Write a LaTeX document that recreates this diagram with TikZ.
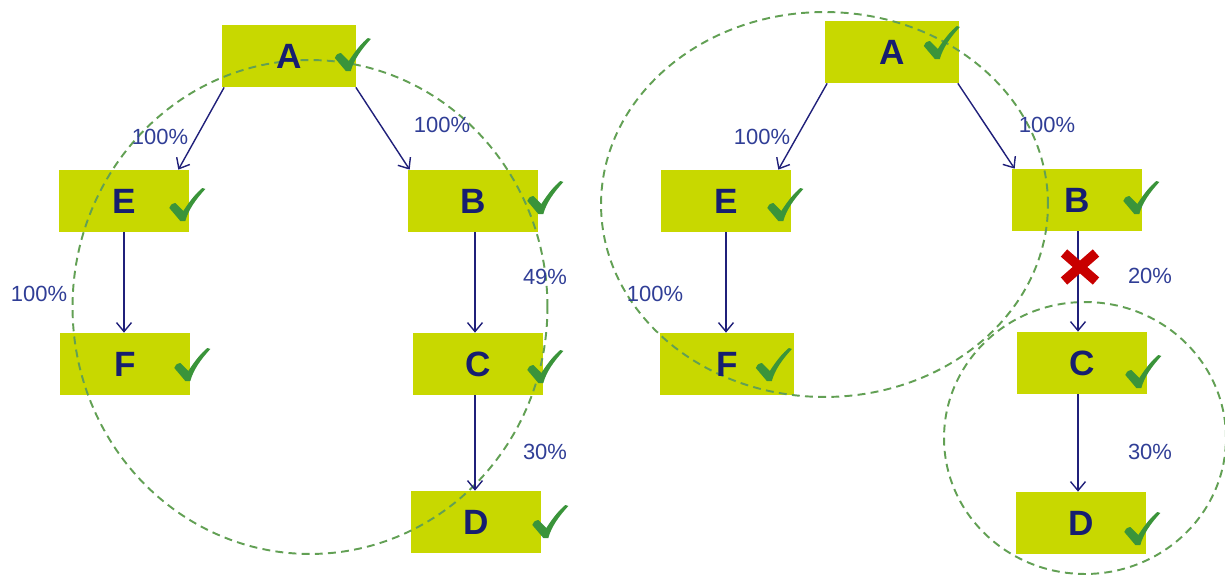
\documentclass[tikz,border=0pt]{standalone}
\usepackage{fontspec}
\setmainfont{Liberation Sans}
\usetikzlibrary{arrows.meta, positioning, calc}

\definecolor{boxfill}{RGB}{200,216,0}
\definecolor{letterblue}{RGB}{22,30,112}
\definecolor{linkblue}{RGB}{32,32,122}
\definecolor{pctblue}{RGB}{48,62,150}
\definecolor{ringgreen}{RGB}{98,160,84}
\definecolor{tickgreen}{RGB}{58,148,58}
\definecolor{crossred}{RGB}{200,0,0}

\pgfdeclarelayer{boxes}
\pgfdeclarelayer{rings}
\pgfsetlayers{boxes,rings,main}

\begin{document}
\begin{tikzpicture}[x=0.02cm, y=-0.02cm]
    % Define styles
    \tikzset{
        letter/.style={minimum width=2.6cm, minimum height=1.24cm, inner sep=0pt, font=\fontsize{20}{24}\selectfont\bfseries, text=letterblue},
        pct/.style={font=\fontsize{12.5}{15}\selectfont, text=pctblue, inner sep=0pt},
        link/.style={draw=linkblue, line width=0.8pt, -{Straight Barb[length=1.8mm, width=3mm]}},
        ring/.style={draw=ringgreen, line width=1.1pt, dash pattern=on 4.5pt off 3pt},
        cross/.style={draw=crossred, line width=5.5pt},
        okmark/.pic={\fill[tickgreen] (-18,3) .. controls (-16,-1) .. (-12,-2) -- (-4,6)
            .. controls (3,-5) and (9,-12) .. (15,-17) -- (18,-16)
            .. controls (8,-5) and (1,5) .. (-2,16) -- (-7,16) -- cycle;}
    }
    \useasboundingbox (0,0) rectangle (1225,575);

    % Left tree
    \node[letter, minimum width=2.66cm] (lA) at (289,56) {A};
    \node[letter] (lE) at (124,201) {E};
    \node[letter] (lB) at (473,201) {B};
    \node[letter] (lF) at (125,364) {F};
    \node[letter] (lC) at (478,364) {C};
    \node[letter] (lD) at (476,522) {D};

    \draw[link] ([xshift=0.04cm]lA.south west) -- ([xshift=-0.22cm]lE.north east);
    \draw[link] (lA.south east) -- ([xshift=0.04cm]lB.north west);
    \draw[link] (lE.south) -- (lE.south |- lF.north);
    \draw[link] ([xshift=0.04cm]lB.south) -- ([xshift=0.04cm]lB.south |- lC.north);
    \draw[link] ([xshift=-0.06cm]lC.south) -- ([xshift=-0.06cm]lC.south |- lD.north);

    \node[pct] (lAE) at (160,137) {100\%};
    \node[pct] (lAB) at (442,125) {100\%};
    \node[pct] (lEF) at (39,294) {100\%};
    \node[pct] (lBC) at (545,277) {49\%};
    \node[pct] (lCD) at (545,452) {30\%};

    % Right tree
    \node[letter, minimum width=2.66cm] (rA) at (892,52) {A};
    \node[letter] (rE) at (726,201) {E};
    \node[letter] (rB) at (1077,200) {B};
    \node[letter, minimum width=2.66cm] (rF) at (727,364) {F};
    \node[letter] (rC) at (1082,363) {C};
    \node[letter] (rD) at (1081,523) {D};

    \draw[link] ([xshift=0.04cm]rA.south west) -- ([xshift=-0.26cm]rE.north east);
    \draw[link] ([xshift=-0.02cm]rA.south east) -- ([xshift=0.06cm]rB.north west);
    \draw[link] (rE.south) -- (rE.south |- rF.north);
    \draw[link] ([xshift=0.02cm]rB.south) -- ([xshift=0.02cm]rB.south |- rC.north);
    \draw[link] ([xshift=-0.08cm]rC.south) -- ([xshift=-0.08cm]rC.south |- rD.north);

    \node[pct] (rAE) at (762,137) {100\%};
    \node[pct] (rAB) at (1047,125) {100\%};
    \node[pct] (rEF) at (655,294) {100\%};
    \node[pct] (rBC) at (1150,276) {20\%};
    \node[pct] (rCD) at (1150,452) {30\%};

    % broken link B -> C
    \coordinate (cut) at (1080,267);
    \draw[cross] ([shift={(-16,-14)}]cut) -- ([shift={(16,14)}]cut)
                 ([shift={(-16,14)}]cut) -- ([shift={(16,-14)}]cut);

    % check marks
    \pic at ([shift={(-3,-1)}]lA.east) {okmark};
    \pic at ([shift={(-2,4)}]lE.east) {okmark};
    \pic at ([shift={(7,-3)}]lB.east) {okmark};
    \pic at ([shift={(2,1)}]lF.east) {okmark};
    \pic at ([shift={(2,3)}]lC.east) {okmark};
    \pic at ([shift={(9,0)}]lD.east) {okmark};
    \pic at ([shift={(-17,-9)}]rA.east) {okmark};
    \pic at ([shift={(-6,4)}]rE.east) {okmark};
    \pic at ([shift={(-1,-2)}]rB.east) {okmark};
    \pic at ([shift={(-20,1)}]rF.east) {okmark};
    \pic at ([shift={(-4,9)}]rC.east) {okmark};
    \pic at ([shift={(-4,6)}]rD.east) {okmark};

    % yellow boxes behind everything
    \begin{pgfonlayer}{boxes}
        \foreach \n in {lA,lE,lB,lF,lC,lD,rA,rE,rB,rF,rC,rD}
            \fill[boxfill] (\n.south west) rectangle (\n.north east);
    \end{pgfonlayer}

    % dashed groups
    \begin{pgfonlayer}{rings}
        \draw[ring] (310,307) ellipse [x radius=4.75cm, y radius=4.94cm];
        \draw[ring] (824.5,204.5) ellipse [x radius=4.47cm, y radius=3.85cm];
        \draw[ring] (1085,438) ellipse [x radius=2.82cm, y radius=2.72cm];
    \end{pgfonlayer}
\end{tikzpicture}
\end{document}
